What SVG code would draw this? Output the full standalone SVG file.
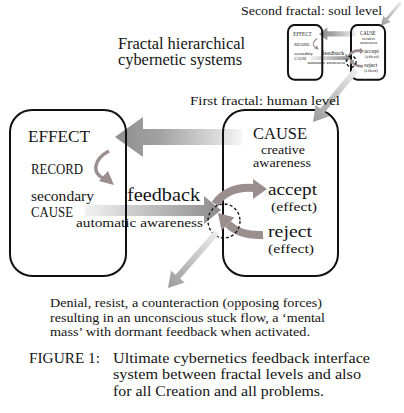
<svg xmlns="http://www.w3.org/2000/svg" xmlns:xlink="http://www.w3.org/1999/xlink" width="404" height="413" viewBox="0 0 404 413">
<style>
text{font-family:"Liberation Serif","Times New Roman",serif;fill:#141414}
.box{fill:none;stroke:#111;stroke-width:2;vector-effect:non-scaling-stroke}
.taupe{fill:#9b8e8e}
.tstroke{fill:none;stroke:#9b8e8e}
.dash{fill:none;stroke:#111;stroke-width:1.3;stroke-dasharray:3 2.2;vector-effect:non-scaling-stroke}
</style>
<defs>
<linearGradient id="gBig" x1="0" y1="0" x2="1" y2="0">
<stop offset="0" stop-color="#8e8e8e"/><stop offset="0.35" stop-color="#a2a2a2"/><stop offset="0.9" stop-color="#e6e6e6"/><stop offset="1" stop-color="#f8f8f8"/>
</linearGradient>
<linearGradient id="gFb" x1="0" y1="0" x2="1" y2="0">
<stop offset="0" stop-color="#f2f2f2"/><stop offset="0.5" stop-color="#bdbdbd"/><stop offset="1" stop-color="#8c8c8c"/>
</linearGradient>
<linearGradient id="gDiag" x1="0" y1="0" x2="1" y2="0">
<stop offset="0" stop-color="#ececec"/><stop offset="1" stop-color="#9a9a9a"/>
</linearGradient>
</defs>

<g id="level1">
<g id="connectors-back">
<polygon points="115,137 143,117 143,129 242,129 242,145 143,145 143,157" fill="url(#gBig)"/>
<polygon points="85,205 204,205 204,196 221,210 204,224 204,216 85,216" fill="url(#gFb)"/>
</g>
<g id="effect-node">
<rect class="box" x="10" y="110" width="116" height="166" rx="22"/>
<text x="28" y="142" font-size="17" textLength="62" lengthAdjust="spacingAndGlyphs">EFFECT</text>
<text x="31" y="174" font-size="14" textLength="52" lengthAdjust="spacingAndGlyphs">RECORD</text>
<text x="31" y="201" font-size="14" textLength="63" lengthAdjust="spacingAndGlyphs">secondary</text>
<text x="31" y="217" font-size="14" textLength="42" lengthAdjust="spacingAndGlyphs">CAUSE</text>
</g>
<g id="cause-node">
<rect class="box" x="223" y="110" width="115" height="166" rx="22"/>
<text x="253" y="139" font-size="16" textLength="54" lengthAdjust="spacingAndGlyphs">CAUSE</text>
<text x="261" y="154" font-size="12" textLength="44" lengthAdjust="spacingAndGlyphs">creative</text>
<text x="253" y="167" font-size="12" textLength="58" lengthAdjust="spacingAndGlyphs">awareness</text>
<text x="268" y="195" font-size="17" textLength="49" lengthAdjust="spacingAndGlyphs">accept</text>
<text x="271" y="211" font-size="13" textLength="46" lengthAdjust="spacingAndGlyphs">(effect)</text>
<text x="268" y="237" font-size="17" textLength="44" lengthAdjust="spacingAndGlyphs">reject</text>
<text x="268" y="253" font-size="13" textLength="46" lengthAdjust="spacingAndGlyphs">(effect)</text>
</g>
<g id="connectors-front">
<path class="tstroke" d="M109 151 C92 160 93 174 103 178" stroke-width="3.5"/>
<polygon class="taupe" points="114,185 99,181 108,171"/>
<path class="tstroke" d="M215 204 Q228 186 254 188" stroke-width="8"/>
<polygon class="taupe" points="253,179 267,189 253,199"/>
<path class="tstroke" d="M263 235 Q240 236 228 224" stroke-width="8"/>
<polygon class="taupe" points="234.5,217.5 218,213 221.5,230.5"/>
<ellipse class="dash" cx="224" cy="221" rx="16" ry="17"/>
<text x="127" y="201" font-size="19" textLength="73" lengthAdjust="spacingAndGlyphs">feedback</text>
<text x="76" y="227" font-size="13" textLength="127" lengthAdjust="spacingAndGlyphs">automatic awareness</text>
</g>
</g>

<g id="level2">
<use xlink:href="#level1" href="#level1" transform="translate(285,-11.3) scale(0.296,0.33)"/>
</g>

<g id="connectors-levels">
<polygon transform="translate(401,2) rotate(129.8)" points="0,-1.5 22,-1.5 22,-5 31,0 22,5 22,1.5 0,1.5" fill="url(#gDiag)"/>
<polygon transform="translate(356,70) rotate(129.6)" points="0,-3 52.5,-3 52.5,-9 67.5,0 52.5,9 52.5,3 0,3" fill="url(#gDiag)"/>
<polygon transform="translate(217,232) rotate(131.2)" points="0,-3 59.4,-3 59.4,-9 74.4,0 59.4,9 59.4,3 0,3" fill="url(#gDiag)"/>
</g>

<g id="labels">
<text x="241" y="15" font-size="13" textLength="141" lengthAdjust="spacingAndGlyphs">Second fractal: soul level</text>
<text x="118" y="49" font-size="16" textLength="127" lengthAdjust="spacingAndGlyphs">Fractal hierarchical</text>
<text x="118" y="65" font-size="16" textLength="124" lengthAdjust="spacingAndGlyphs">cybernetic systems</text>
<text x="190" y="105" font-size="13.5" textLength="150" lengthAdjust="spacingAndGlyphs">First fractal: human level</text>
<text x="50" y="307" font-size="13" textLength="272" lengthAdjust="spacingAndGlyphs">Denial, resist, a counteraction (opposing forces)</text>
<text x="50" y="322" font-size="13" textLength="275" lengthAdjust="spacingAndGlyphs">resulting in an unconscious stuck flow, a ‘mental</text>
<text x="50" y="336" font-size="13" textLength="260" lengthAdjust="spacingAndGlyphs">mass’ with dormant feedback when activated.</text>
<text x="29" y="363" font-size="15" textLength="71" lengthAdjust="spacingAndGlyphs">FIGURE 1:</text>
<text x="113" y="363" font-size="15" textLength="257" lengthAdjust="spacingAndGlyphs">Ultimate cybernetics feedback interface</text>
<text x="113" y="379" font-size="15" textLength="248" lengthAdjust="spacingAndGlyphs">system between fractal levels and also</text>
<text x="113" y="396" font-size="15" textLength="211" lengthAdjust="spacingAndGlyphs">for all Creation and all problems.</text>
</g>
</svg>
